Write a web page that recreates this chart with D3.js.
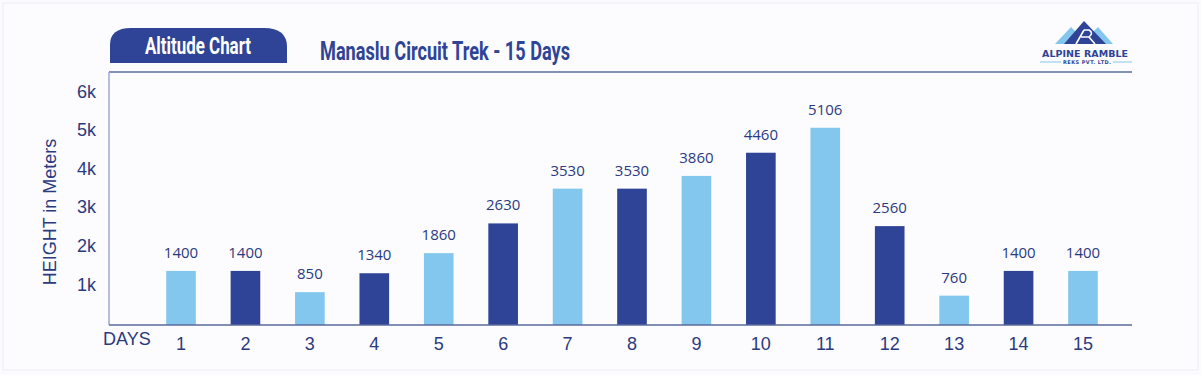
<!DOCTYPE html>
<html>
<head>
<meta charset="utf-8">
<script src="https://cdn.jsdelivr.net/npm/d3@7"></script>
<style>
	body { margin: 0; background: #fbfbfe; }
	svg { display: block; }
</style>
</head>
<body>
<svg id="container"></svg>
<script>
// chart data
const days = [1, 2, 3, 4, 5, 6, 7, 8, 9, 10, 11, 12, 13, 14, 15];
const heights = [1400, 1400, 850, 1340, 1860, 2630, 3530, 3530, 3860, 4460, 5106, 2560, 760, 1400, 1400];
const yTicks = [1000, 2000, 3000, 4000, 5000, 6000];
const tabLabel = "Altitude Chart";
const title = "Manaslu Circuit Trek - 15 Days";
const yTitle = "HEIGHT in Meters";
const xTitle = "DAYS";

const W = 1201, H = 375;
const light = "#84c7ee", dark = "#2f4496", ink = "#2b3a7e";
const condensed = "Roboto, 'Liberation Sans', sans-serif";

const svg = d3.select("#container").attr("width", W).attr("height", H);

// faint outer border
svg.append("rect")
	.attr("x", 3).attr("y", 3).attr("width", W - 6).attr("height", H - 8)
	.attr("fill", "#fcfcfe").attr("stroke", "#eeeef4");

// plot frame bounds
const pLeft = 109, pRight = 1132, pTop = 72, pBottom = 325;

// scales
const x = d3.scaleBand().domain(days).range([148.8, 1115.2]).paddingInner(0.54).paddingOuter(0.27);
const y = d3.scaleLinear().domain([0, 6550]).range([pBottom, pTop]);

// tab header
const tx0 = 110, tx1 = 287, ty0 = 28, ty1 = 63, r = 17;
svg.append("path")
	.attr("d", `M${tx0},${ty1} L${tx0},${ty0 + r} Q${tx0},${ty0} ${tx0 + r + 4},${ty0} L${tx1 - r - 6},${ty0} Q${tx1},${ty0} ${tx1},${ty0 + r + 2} L${tx1},${ty1} Z`)
	.attr("fill", dark);
svg.append("text")
	.attr("x", 145).attr("y", 54)
	.attr("textLength", 106).attr("lengthAdjust", "spacingAndGlyphs")
	.attr("font-family", condensed).attr("font-weight", "bold").attr("font-size", 24)
	.attr("fill", "#ffffff")
	.text(tabLabel);

svg.append("text")
	.attr("x", 320).attr("y", 60)
	.attr("textLength", 250).attr("lengthAdjust", "spacingAndGlyphs")
	.attr("font-family", condensed).attr("font-weight", "bold").attr("font-size", 26)
	.attr("fill", dark)
	.text(title);

// frame lines
svg.append("line").attr("x1", pLeft).attr("x2", pRight).attr("y1", pTop).attr("y2", pTop)
	.attr("stroke", "#5b6e9e").attr("stroke-width", 1.5);
svg.append("line").attr("x1", pLeft).attr("x2", pLeft).attr("y1", pTop).attr("y2", pBottom)
	.attr("stroke", "#9ea8d2").attr("stroke-width", 1.5);

// bars
svg.selectAll(".bar")
	.data(days)
	.enter()
	.append("rect")
	.attr("class", "bar")
	.attr("x", d => x(d))
	.attr("y", (d, i) => y(heights[i]))
	.attr("width", x.bandwidth())
	.attr("height", (d, i) => pBottom - y(heights[i]))
	.attr("fill", d => d % 2 === 1 ? light : dark);

// value labels
svg.selectAll(".val")
	.data(days)
	.enter()
	.append("text")
	.attr("class", "val")
	.attr("x", d => x(d) + x.bandwidth() / 2)
	.attr("y", (d, i) => y(heights[i]) - 13)
	.attr("text-anchor", "middle")
	.attr("font-family", "'Open Sans', sans-serif").attr("font-size", 15)
	.attr("fill", ink)
	.text((d, i) => heights[i]);

// bottom axis line
svg.append("line").attr("x1", pLeft).attr("x2", pRight).attr("y1", pBottom).attr("y2", pBottom)
	.attr("stroke", "#5b6a9c").attr("stroke-width", 1.5);

// x axis labels
const gX = svg.append("g")
	.attr("transform", "translate(0," + pBottom + ")")
	.call(d3.axisBottom(x).tickSize(0).tickPadding(12));
gX.select(".domain").remove();
gX.selectAll(".tick text")
	.attr("font-family", "'Liberation Sans', Arial, sans-serif").attr("font-size", 18)
	.attr("fill", ink);

svg.append("text")
	.attr("x", 103).attr("y", 345)
	.attr("font-family", "'Liberation Sans', Arial, sans-serif").attr("font-size", 18)
	.attr("fill", ink)
	.text(xTitle);

// y axis labels
const gY = svg.append("g")
	.attr("transform", "translate(96,-2)")
	.call(d3.axisLeft(y).tickValues(yTicks).tickSize(0).tickPadding(0).tickFormat(d => (d / 1000) + "k"));
gY.select(".domain").remove();
gY.selectAll(".tick text")
	.attr("font-family", "'Liberation Sans', Arial, sans-serif").attr("font-size", 18)
	.attr("fill", ink);

svg.append("text")
	.attr("transform", "translate(56,212) rotate(-90)")
	.attr("text-anchor", "middle")
	.attr("font-family", "'Liberation Sans', Arial, sans-serif").attr("font-size", 18)
	.attr("fill", ink)
	.text(yTitle);

// logo
const logo = svg.append("g");
logo.append("path").attr("d", "M1055,44 L1071,27 L1080,36 L1074,44 Z").attr("fill", light);
logo.append("path").attr("d", "M1113,44 L1098,27 L1089,36 L1095,44 Z").attr("fill", light);
logo.append("path").attr("d", "M1064,44 L1084,21 L1106,44 Z").attr("fill", dark);
logo.append("path").attr("d", "M1076,44 L1084,30 M1081,37 L1089,37 M1084,30 L1089,30 Q1094,33 1089,37 L1095,44")
	.attr("fill", "none").attr("stroke", "#ffffff").attr("stroke-width", 1.6);
logo.append("text")
	.attr("x", 1042).attr("y", 57)
	.attr("textLength", 86).attr("lengthAdjust", "spacing")
	.attr("font-family", "'DejaVu Sans', sans-serif").attr("font-weight", "bold").attr("font-size", 9.5)
	.attr("fill", dark)
	.text("ALPINE RAMBLE");
logo.append("text")
	.attr("x", 1063).attr("y", 64)
	.attr("textLength", 48).attr("lengthAdjust", "spacing")
	.attr("font-family", "'DejaVu Sans', sans-serif").attr("font-weight", "bold").attr("font-size", 5)
	.attr("fill", dark)
	.text("REKS PVT. LTD.");
logo.append("line").attr("x1", 1040).attr("x2", 1061).attr("y1", 62).attr("y2", 62).attr("stroke", light);
logo.append("line").attr("x1", 1113).attr("x2", 1132).attr("y1", 62).attr("y2", 62).attr("stroke", light);
</script>
</body>
</html>
